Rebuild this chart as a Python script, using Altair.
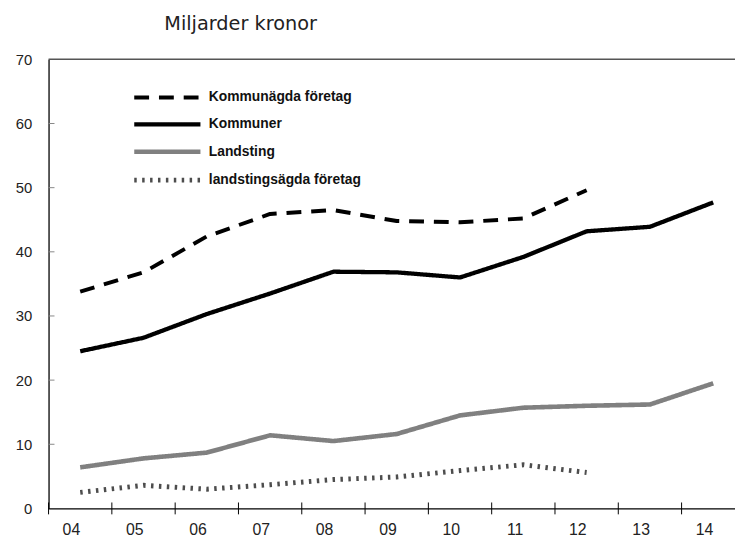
import altair as alt
import pandas as pd

years = ["04", "05", "06", "07", "08", "09", "10", "11", "12", "13", "14"]
series = ["Kommunägda företag", "Kommuner", "Landsting", "landstingsägda företag"]
kommunagda = [33.8, 36.8, 42.4, 45.9, 46.5, 44.8, 44.6, 45.2, 49.6, None, None]
kommuner = [24.5, 26.6, 30.3, 33.5, 36.9, 36.8, 36.0, 39.2, 43.2, 43.9, 47.7]
landsting = [6.4, 7.8, 8.7, 11.4, 10.5, 11.6, 14.5, 15.7, 16.0, 16.2, 19.5]
landstingsagda = [2.5, 3.6, 3.0, 3.7, 4.5, 4.9, 5.9, 6.8, 5.6, None, None]
y_ticks = [0, 10, 20, 30, 40, 50, 60, 70]
title_text = "Miljarder kronor"

rows = []
for name, vals in zip(series, [kommunagda, kommuner, landsting, landstingsagda]):
    for yr, v in zip(years, vals):
        if v is not None:
            rows.append({"year": yr, "series": name, "value": v})
df = pd.DataFrame(rows)

LEGFONT = "Liberation Sans, Arial, sans-serif"
AXFONT = "Liberation Sans, Arial, sans-serif"

W, H = 686, 454

leg = alt.Legend(
    title=None, orient="none", legendX=84, legendY=28, padding=0,
    symbolType="M-1,0H7", symbolSize=280, labelOffset=56, rowPadding=7.7,
    labelFont=LEGFONT, labelFontWeight="bold", labelFontSize=14, labelColor="#111",
    labelLimit=400, symbolFillColor="transparent",
)

xscale = alt.Scale(domain=years, range=[0, 704], paddingInner=0, paddingOuter=0)
x_enc = alt.X("year:N", sort=years, scale=xscale,
              axis=alt.Axis(title=None, labelAngle=0, ticks=False, labelPadding=21,
                            labelBaseline="middle",
                            labelFont=AXFONT, labelFontSize=16, labelColor="#222",
                            domainColor="#000", domainWidth=1.3, grid=False))
y_enc = alt.Y("value:Q", scale=alt.Scale(domain=[0, 70], nice=False, zero=True),
              axis=alt.Axis(title=None, values=y_ticks, ticks=False, labelPadding=17,
                            labelFont=AXFONT, labelFontSize=15, labelColor="#222",
                            domainColor="#000", domainWidth=1.3, grid=False))

lines = alt.Chart(df).mark_line(strokeCap="butt", strokeJoin="round").encode(
    x=x_enc,
    y=y_enc,
    color=alt.Color("series:N", scale=alt.Scale(domain=series, range=["#000000", "#000000", "#808080", "#4d4d4d"]), legend=leg),
    strokeDash=alt.StrokeDash("series:N", scale=alt.Scale(domain=series, range=[[15, 10], [1, 0], [1, 0], [2.5, 5.5]]), legend=leg),
    strokeWidth=alt.StrokeWidth("series:N", scale=alt.Scale(domain=series, range=[4, 5, 4, 3]), legend=leg),
)

ytick_df = pd.DataFrame({"v": y_ticks[1:-1]})
yticks = alt.Chart(ytick_df).mark_rule(color="#888888", strokeWidth=1).encode(
    y=alt.Y("v:Q"), x=alt.value(0), x2=alt.value(6)
)

xtick_df = pd.DataFrame({"year": years})
xticks = alt.Chart(xtick_df).mark_rule(color="#000000", strokeWidth=1).encode(
    x=alt.X("year:N", sort=years, bandPosition=0), y=alt.value(H - 6), y2=alt.value(H + 6)
)

top_df = pd.DataFrame({"v": [y_ticks[-1]]})
top = alt.Chart(top_df).mark_rule(color="#555555", strokeWidth=1.5).encode(
    y=alt.Y("v:Q"), x=alt.value(0), x2=alt.value(704)
)

title_df = pd.DataFrame({"t": [title_text]})
title = alt.Chart(title_df).mark_text(
    align="left", baseline="alphabetic", font="DejaVu Sans",
    fontSize=19.5, color="#222222"
).encode(text="t:N", x=alt.value(117), y=alt.value(-30))

chart = alt.layer(top, yticks, xticks, lines, title).properties(
    width=W, height=H,
    padding={"left": 41, "top": 49, "right": 8, "bottom": 29},
    autosize=alt.AutoSizeParams(type="none"),
).configure_view(stroke=None)

chart.save("out.html", embed_options={"renderer": "svg", "actions": False})
